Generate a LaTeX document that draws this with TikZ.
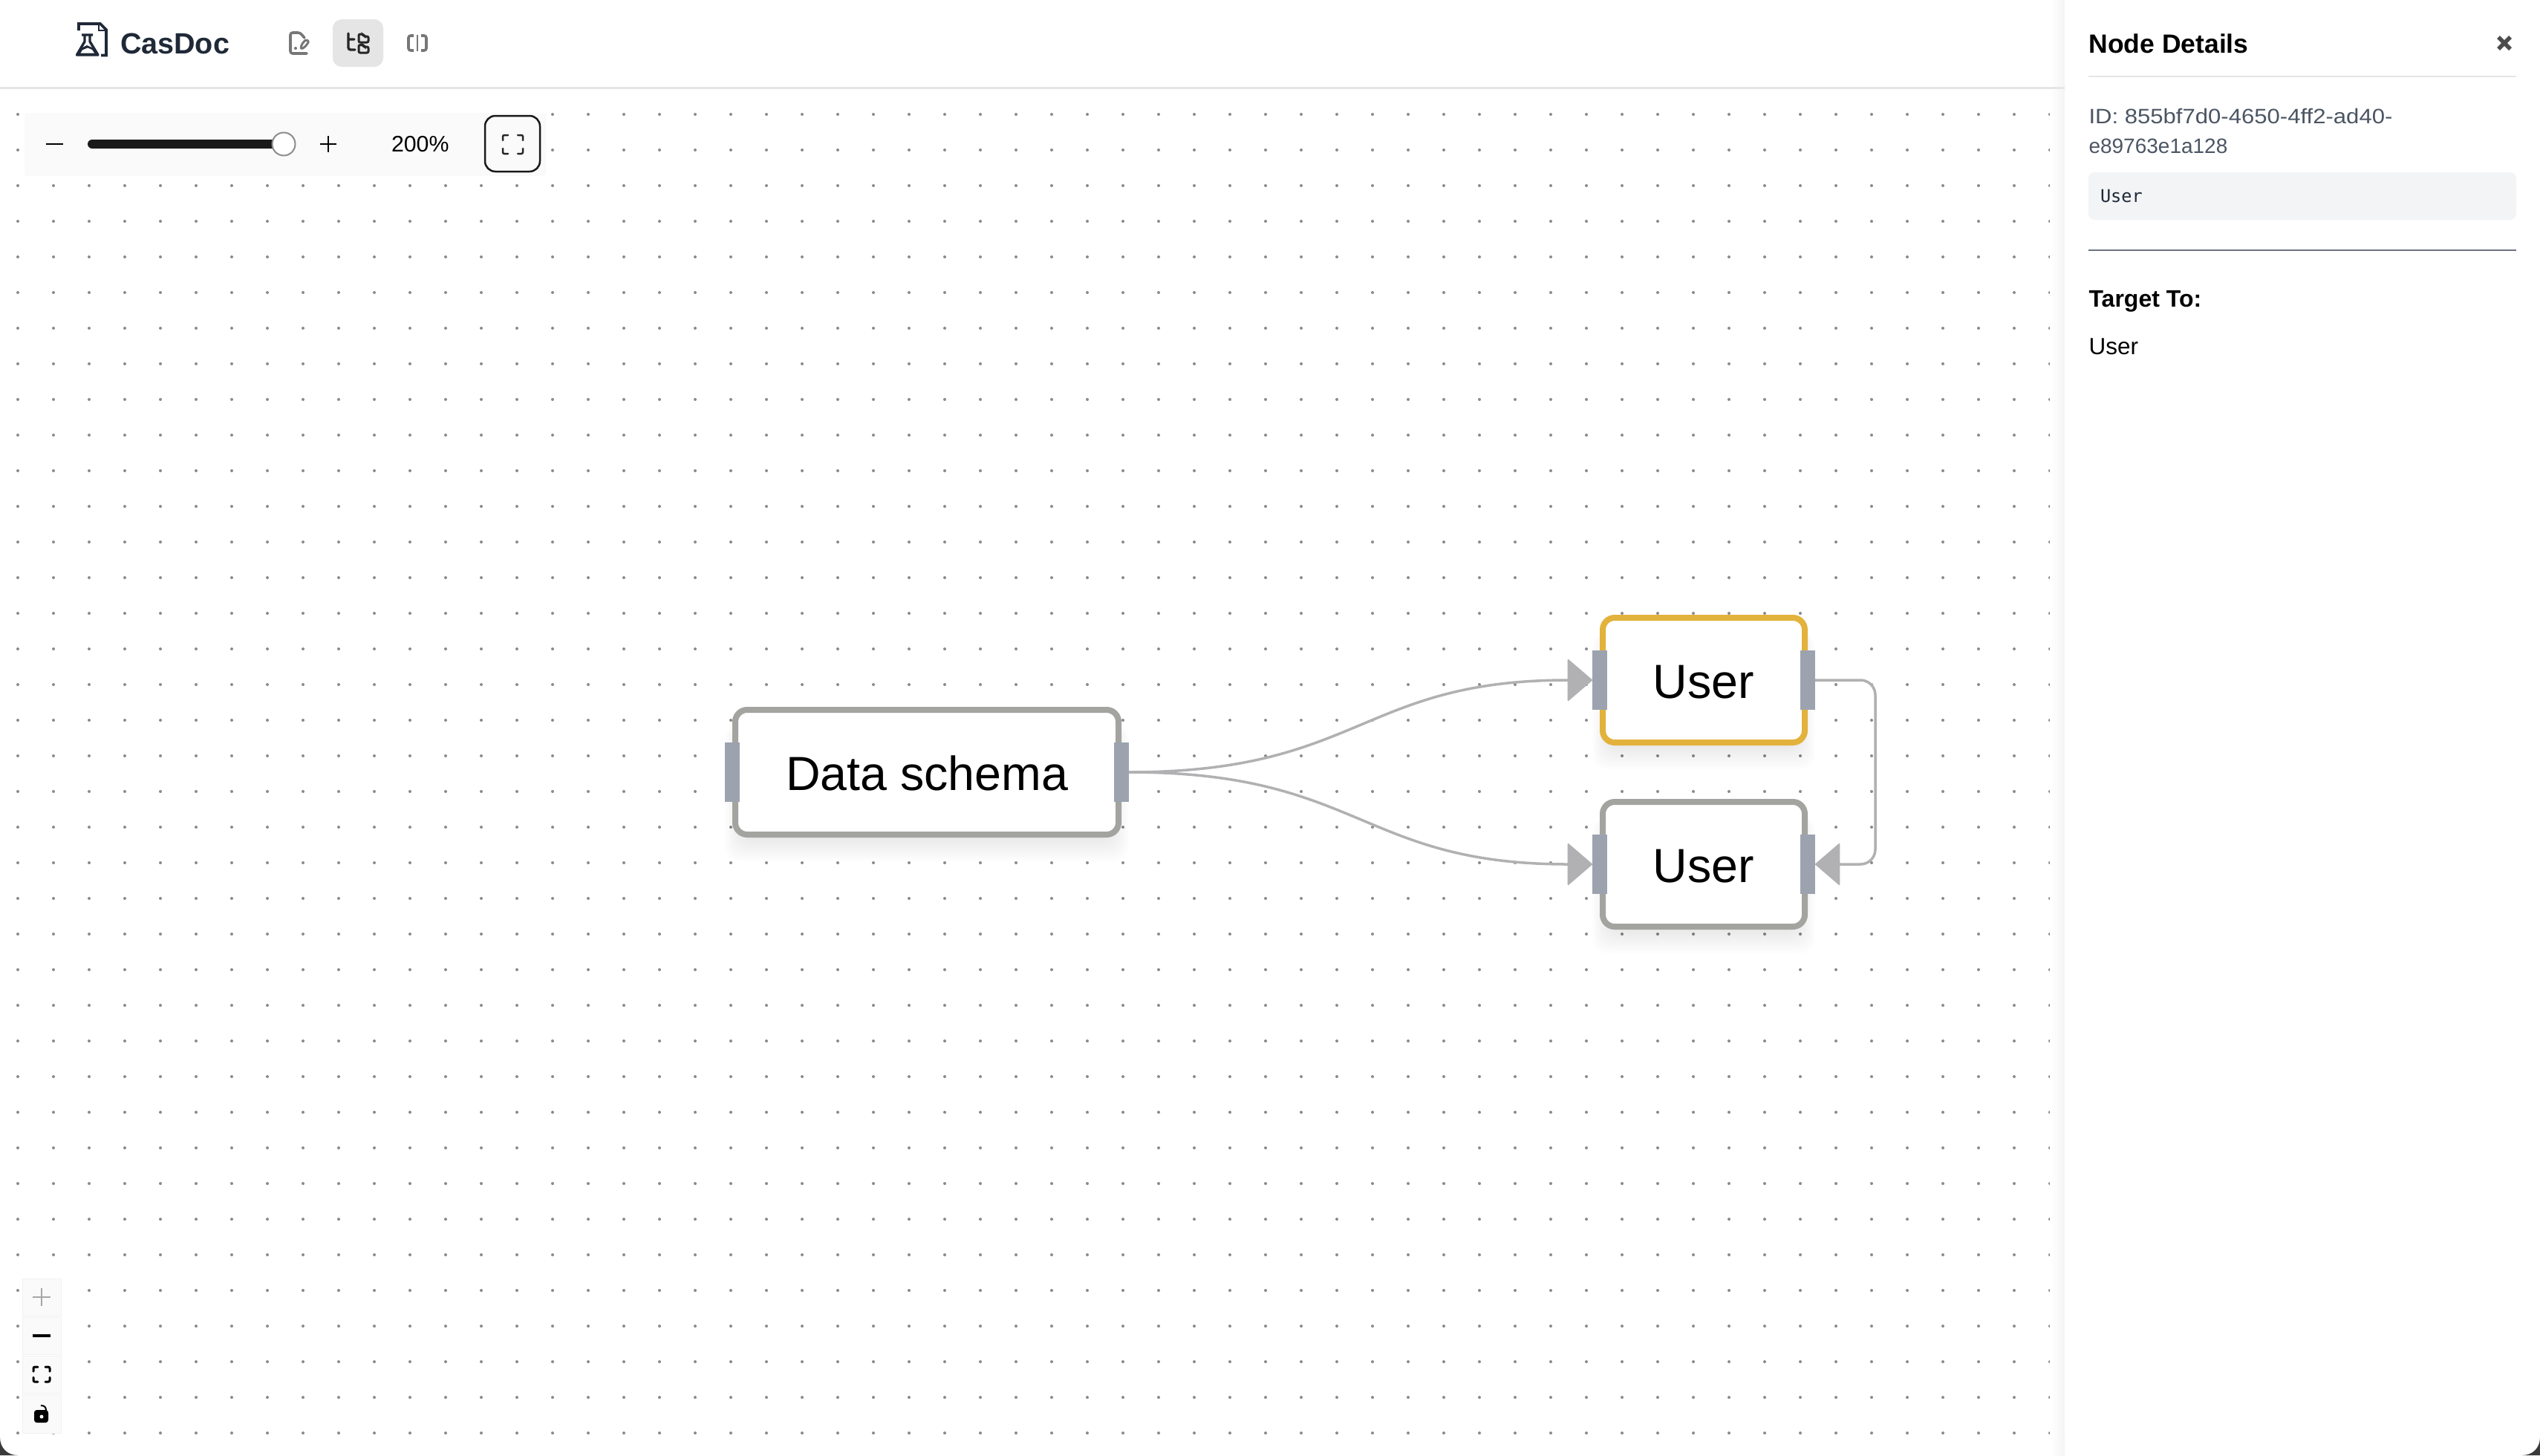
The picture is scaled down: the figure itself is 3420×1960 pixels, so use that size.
\documentclass[tikz,border=0pt]{standalone}
\usepackage{fontspec}
\usetikzlibrary{arrows.meta}
\setmainfont{Liberation Sans}
\newfontfamily\idwide[FakeStretch=1.11]{Liberation Sans}
\newfontfamily\codefont{DejaVu Sans Mono}
\definecolor{dotc}{HTML}{8A8A8A}
\definecolor{linec}{HTML}{E5E5E5}
\definecolor{gold}{HTML}{E3B23C}
\definecolor{nodeb}{HTML}{A3A3A0}
\definecolor{handlec}{HTML}{9CA3AF}
\definecolor{edgec}{HTML}{B1B1B3}
\definecolor{inkc}{HTML}{1F2937}
\definecolor{iconc}{HTML}{777777}
\definecolor{darkc}{HTML}{262626}
\definecolor{panelg}{HTML}{F3F4F6}
\definecolor{idc}{HTML}{4B5563}
\definecolor{divc}{HTML}{6B7280}
\definecolor{barbg}{HTML}{FAFAFA}
\definecolor{corner}{HTML}{3A3A3A}
\newcommand\fs[1]{\fontsize{#1}{#1}\selectfont}
\newcommand\softshade[4]{%
  \foreach \i in {0,...,10}
    \fill[black,opacity=.008,rounded corners=20pt]
      ({#1-10+2.2*\i},{#2+24}) rectangle ({#3+10-2.2*\i},{#4+32-3*\i});}
\newcommand\fiticon[6]{%
  \draw[#6,line cap=round,rounded corners=2pt]
    (#1,{#2+#5}) -- (#1,#2) -- ({#1+#5},#2)
    ({#3-#5},#2) -- (#3,#2) -- (#3,{#2+#5})
    (#3,{#4-#5}) -- (#3,#4) -- ({#3-#5},#4)
    ({#1+#5},#4) -- (#1,#4) -- (#1,{#4-#5});}
\tikzset{
  x=1pt,y=-1pt,
  graphnode/.style={draw,fill=white,line width=8pt,rounded corners=16pt,
    minimum height=168pt,inner sep=0pt,outer sep=0pt,text=black,font=\fs{64.5},
    text height=50pt,text depth=2pt},
  portbar/.style={fill=handlec,minimum width=20pt,minimum height=80pt,inner sep=0pt,outer sep=0pt},
  edgeline/.style={draw=edgec,line width=3.5pt,
    -{Triangle[length=34pt,width=58pt,round,line width=2pt]},fill=none},
  uitext/.style={anchor=base west,inner sep=0pt,outer sep=0pt},
  ctrlbtn/.style={fill=barbg,draw=black!5,line width=1pt},
}
\begin{document}
\begin{tikzpicture}
\useasboundingbox (0,0) rectangle (3420,1960);
\fill[white] (0,0) rectangle (3420,1960);
% background dots
\foreach \gx in {24,72,...,2760}
  \foreach \gy in {154,202,...,1930}
    \fill[dotc] (\gx,\gy) circle[radius=2];
% window corners
\fill[corner] (0,1936) .. controls (0,1950) and (10,1960) .. (24,1960) -- (0,1960) -- cycle;
\fill[corner] (3420,1936) .. controls (3420,1950) and (3410,1960) .. (3396,1960) -- (3420,1960) -- cycle;
% header rule and side panel edge
\shade[left color=white,right color=black!4] (2760,0) rectangle (2780,1960);
\fill[white] (2780,0) rectangle (3420,1935);
\draw[linec,line width=2.5pt] (0,118.5) -- (2780,118.5);
% logo
\draw[inkc,line width=3.6pt,miter limit=4]
  (106,41) -- (106,32) -- (135,32) -- (143,40) -- (143,74.5) -- (136,74.5);
\draw[inkc,line width=2.6pt] (133,33) -- (133,41) -- (143,41);
\draw[inkc,line width=3.4pt,line join=round]
  (110,47) -- (125,47) (114,47) -- (114,56) -- (103.5,74) -- (132,74) -- (121,56) -- (121,47);
\fill[inkc] (109,65) -- (117,61) -- (126,65) -- (131,74) -- (104,74) -- cycle;
\fill[white] (111,67.5) -- (118,64.5) -- (124,67) -- (127,71.5) -- (108.5,71.5) -- cycle;
\node[uitext,font=\fs{39.5}\bfseries,text=inkc] (brand) at (162,72) {CasDoc};
% view switcher
\fill[linec,rounded corners=12pt] (448,26) rectangle (516,90);
\draw[iconc,line width=3.6pt,line cap=round,line join=round,rounded corners=3pt]
  (410,51) -- (404,44) -- (391,44) -- (391,72) -- (413,72);
\draw[iconc,line width=3pt,line join=round,rounded corners=2pt]
  (405,66) -- (406,60) -- (412,53) -- (416,56) -- (410,64) -- cycle;
\fill[iconc] (398,65) circle[radius=2];
\draw[darkc,line width=3.4pt,line cap=round,rounded corners=3pt]
  (469,45) -- (469,67) -- (478,67) (469,53) -- (477,53);
\draw[darkc,line width=3pt,rounded corners=2pt]
  (483,46) -- (489,46) -- (490,49) -- (496,49) -- (496,57) -- (483,57) -- cycle;
\draw[darkc,line width=3pt,rounded corners=2pt]
  (483,60.5) -- (489,60.5) -- (490,63) -- (496,63) -- (496,71) -- (483,71) -- cycle;
\draw[iconc,line width=3.6pt,rounded corners=3pt]
  (557,48) -- (550,48) -- (550,68) -- (557,68)
  (567,48) -- (574,48) -- (574,68) -- (567,68);
\draw[iconc,line width=2pt] (562,47) -- (562,69);
% zoom toolbar
\fill[barbg,rounded corners=4pt] (33,152) rectangle (735,237);
\draw[black,line width=2.5pt] (62,194) -- (85,194);
\fill[black!90,rounded corners=6pt] (118,188) rectangle (385,200);
\node[circle,draw=black!45,line width=2pt,fill=white,minimum size=31pt,inner sep=0pt] (thumb) at (382,194) {};
\draw[black,line width=2.5pt] (431,194) -- (453,194) (442,183) -- (442,205);
\node[uitext,font=\fs{30.3},text=black] (zoomval) at (527,204) {200\%};
\node[draw=black!90,line width=2.5pt,fill=barbg,rounded corners=14pt,minimum width=74pt,minimum height=75pt,inner sep=0pt] (fitbtn) at (690,193.5) {};
\fiticon{677}{182}{704}{207}{7}{darkc,line width=2.5pt}
% lower-left controls
\foreach \yt/\yb in {1722/1772,1774/1824,1826/1876,1878/1930}
  \fill[ctrlbtn] (30,\yt) rectangle (82,\yb);
\foreach \yt/\yb in {1722/1772,1774/1824,1826/1876,1878/1930}
  \draw[ctrlbtn,fill=none] (30,\yt) rectangle (82,\yb);
\draw[black!35,line width=2.6pt] (44,1747) -- (68,1747) (56,1735) -- (56,1759);
\draw[black,line width=4pt] (44,1798.5) -- (68,1798.5);
\fiticon{45}{1841}{67}{1861}{6}{black,line width=3pt}
\fill[black,rounded corners=3.5pt] (46,1899) rectangle (65,1916);
\draw[black,line width=2pt] (55,1893) .. controls (60,1893) and (62,1895) .. (62,1900);
\fill[white] (56,1908) circle[radius=2.5];
% graph shadows
\softshade{986}{952}{1510}{1128}
\softshade{2154}{828}{2434}{1004}
\softshade{2154}{1076}{2434}{1252}
% graph nodes
\node[graphnode,draw=nodeb,minimum width=516pt] (schema) at (1248,1040) {Data schema};
\node[graphnode,draw=gold,minimum width=272pt] (userA) at (2294,916) {User};
\node[graphnode,draw=nodeb,minimum width=272pt] (userB) at (2294,1164) {User};
% ports
\node[portbar] (schemaIn) at (986,1040) {};
\node[portbar] (schemaOut) at (1510,1040) {};
\node[portbar] (userAIn) at (2154,916) {};
\node[portbar] (userAOut) at (2434,916) {};
\node[portbar] (userBIn) at (2154,1164) {};
\node[portbar] (userBOut) at (2434,1164) {};
% connectors
\draw[edgeline] (schemaOut.east) .. controls +(312,0) and +(-312,0) .. (userAIn.west);
\draw[edgeline] (schemaOut.east) .. controls +(312,0) and +(-312,0) .. (userBIn.west);
\draw[edgeline,rounded corners=20pt] (userAOut.east) -- ++(81,0) |- (userBOut.east);
% details panel
\node[uitext,font=\fs{35.5}\bfseries,text=black] (paneltitle) at (2812.5,71) {Node Details};
\draw[black!70,line width=5.5pt] (3364,50) -- (3380,66) (3380,50) -- (3364,66);
\draw[linec,line width=2.5pt] (2812,103) -- (3388,103);
\node[uitext,font=\idwide\fs{28},text=idc] (idline1) at (2812.5,166) {ID: 855bf7d0-4650-4ff2-ad40-};
\node[uitext,font=\fs{28},text=idc] (idline2) at (2812.5,206) {e89763e1a128};
\fill[panelg,rounded corners=8pt] (2812,232) rectangle (3388,296);
\node[uitext,font=\codefont\fs{23.6},text=inkc] (codeuser) at (2828,272) {User};
\draw[divc,line width=2.5pt] (2812,337) -- (3388,337);
\node[uitext,font=\fs{32}\bfseries,text=black] (targetlabel) at (2812.5,413) {Target To:};
\node[uitext,font=\fs{31.5},text=black] (targetuser) at (2812.5,477) {User};
\end{tikzpicture}
\end{document}
